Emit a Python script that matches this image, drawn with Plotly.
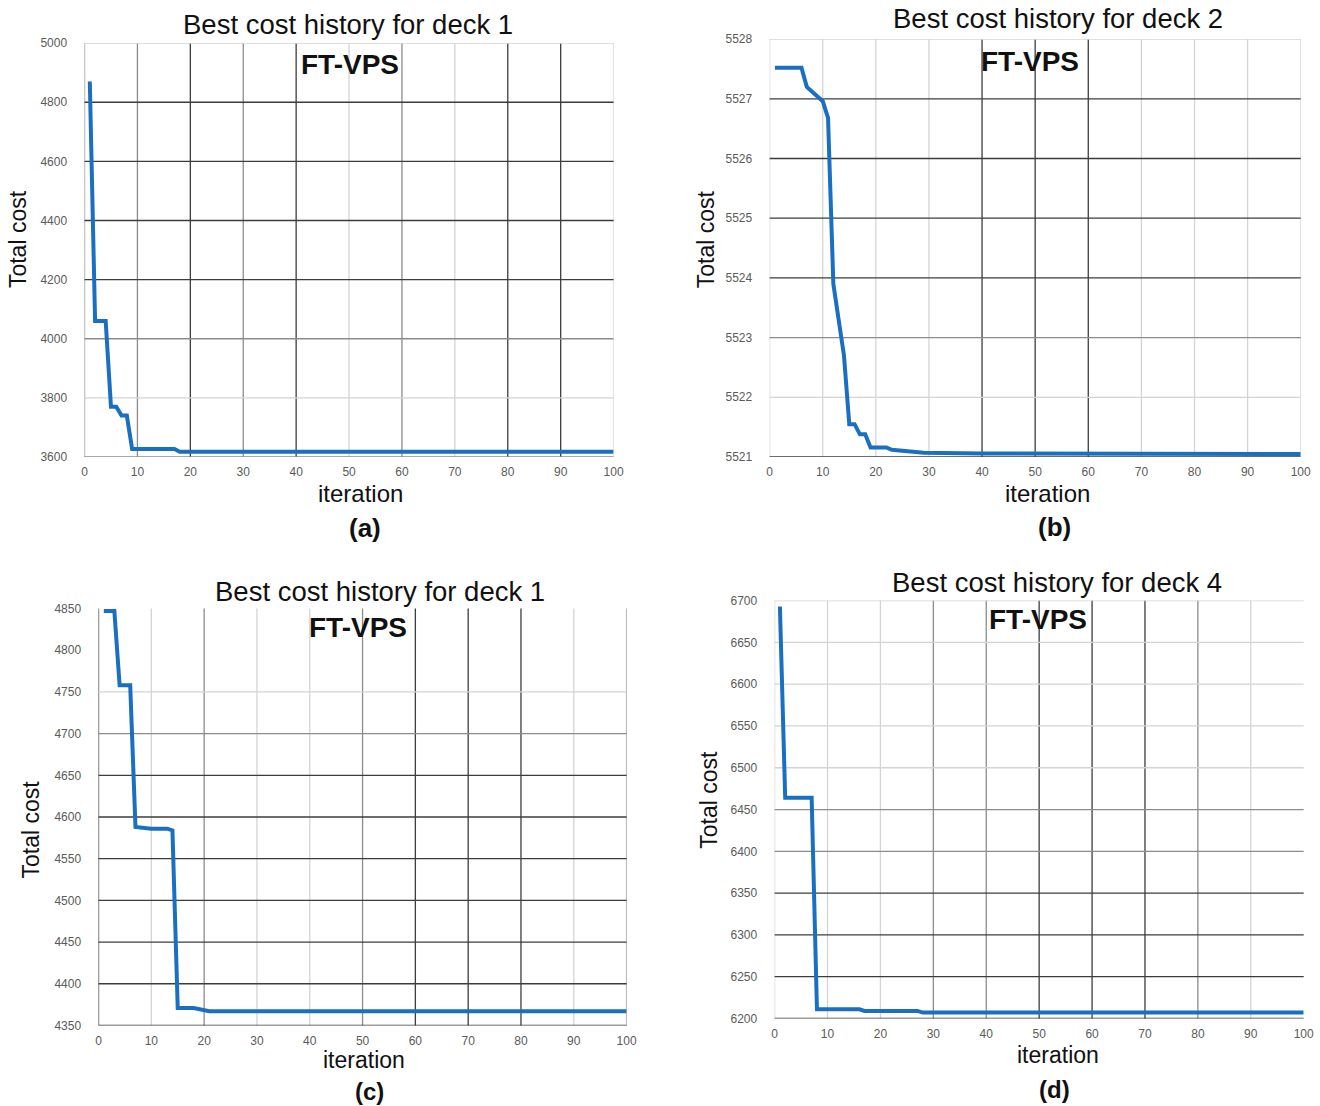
import plotly.graph_objects as go

# ---- best-cost histories (iteration, total cost) ----
iter_a = [1, 2, 4, 5, 6, 7, 8, 9, 17, 18, 100]
cost_a = [4870, 4060, 4060, 3770, 3770, 3740, 3740, 3627, 3627, 3618, 3618]

iter_b = [1, 6, 7, 8, 9, 10, 11, 12, 13, 14, 15, 16, 17, 18, 19, 22, 23, 26, 29, 40, 100]
cost_b = [5527.52, 5527.52, 5527.2, 5527.12, 5527.04, 5526.96, 5526.68, 5523.9,
          5523.3, 5522.7, 5521.55, 5521.55, 5521.38, 5521.38, 5521.16, 5521.16,
          5521.12, 5521.09, 5521.07, 5521.06, 5521.05]

iter_c = [1, 3, 4, 6, 7, 9, 10, 13, 14, 15, 18, 21, 100]
cost_c = [4847, 4847, 4758, 4758, 4588, 4587, 4586, 4586, 4584, 4371, 4371, 4367, 4367]

iter_d = [1, 2, 7, 8, 16, 17, 27, 28, 100]
cost_d = [6693, 6464, 6464, 6211, 6211, 6209, 6209, 6207, 6207]

titles = ["Best cost history for deck 1", "Best cost history for deck 2",
          "Best cost history for deck 1", "Best cost history for deck 4"]
panel_tags = ["(a)", "(b)", "(c)", "(d)"]

x_ticks = [0, 10, 20, 30, 40, 50, 60, 70, 80, 90, 100]
y_ticks_a = [3600, 3800, 4000, 4200, 4400, 4600, 4800, 5000]
y_ticks_b = [5521, 5522, 5523, 5524, 5525, 5526, 5527, 5528]
y_ticks_c = [4350, 4400, 4450, 4500, 4550, 4600, 4650, 4700, 4750, 4800, 4850]
y_ticks_d = [6200, 6250, 6300, 6350, 6400, 6450, 6500, 6550, 6600, 6650, 6700]

# grid line tone per tick (0 none, 1 light, 2 medium, 3 dark)
vgrid_a = [2, 2, 3, 2, 3, 1, 2, 1, 3, 3, 1]
hgrid_a = [2, 1, 2, 3, 3, 3, 3, 1]
vgrid_b = [1, 1, 1, 1, 3, 3, 3, 1, 1, 1, 1]
hgrid_b = [3, 1, 2, 3, 3, 3, 3, 1]
vgrid_c = [3, 1, 2, 1, 1, 2, 3, 3, 3, 1, 2]
hgrid_c = [3, 3, 3, 3, 3, 3, 3, 2, 1, 0, 0]
vgrid_d = [1, 1, 1, 2, 2, 3, 3, 3, 2, 1, 0]
hgrid_d = [3, 3, 3, 3, 2, 2, 1, 1, 1, 1, 1]

W, H = 1320, 1106
# layout positions below are in screen pixels; map them onto the figure
SCALE, OFF_X, OFF_Y = 0.99, 3.5, 5.8
TONES = {1: "#d4d4d4", 2: "#8c8c8c", 3: "#3c3c3c"}
LINE_BLUE = "#1b6fc1"
FONT = "Liberation Sans, Arial, sans-serif"


def px(x):
    return (x - OFF_X) / SCALE / W


def py(y):
    return 1 - (y - OFF_Y) / SCALE / H


panels = [
    dict(it=iter_a, cost=cost_a, yt=y_ticks_a, vg=vgrid_a, hg=hgrid_a,
         dom_x=(85, 614), dom_y=(42, 457),
         title=(348, 23), ft=(350, 63), ylab=(18, 239), xlab=(361, 494), tag=(365, 528)),
    dict(it=iter_b, cost=cost_b, yt=y_ticks_b, vg=vgrid_b, hg=hgrid_b,
         dom_x=(770, 1301), dom_y=(38, 457),
         title=(1058, 17), ft=(1030, 60), ylab=(706, 239), xlab=(1048, 494), tag=(1055, 527)),
    dict(it=iter_c, cost=cost_c, yt=y_ticks_c, vg=vgrid_c, hg=hgrid_c,
         dom_x=(99, 627), dom_y=(609, 1027),
         title=(380, 592), ft=(358, 628), ylab=(31, 831), xlab=(364, 1062), tag=(370, 1093)),
    dict(it=iter_d, cost=cost_d, yt=y_ticks_d, vg=vgrid_d, hg=hgrid_d,
         dom_x=(775, 1304), dom_y=(601, 1020),
         title=(1057, 583), ft=(1038, 620), ylab=(709, 801), xlab=(1058, 1057), tag=(1055, 1091)),
]

fig = go.Figure()
layout = dict(
    width=W, height=H, margin=dict(l=0, r=0, t=0, b=0),
    paper_bgcolor="white", plot_bgcolor="white", showlegend=False,
)
shapes, annotations = [], []

for i, p in enumerate(panels):
    n = i + 1
    xa = "x" if n == 1 else f"x{n}"
    ya = "y" if n == 1 else f"y{n}"
    fig.add_trace(go.Scatter(
        x=p["it"], y=p["cost"], mode="lines",
        line=dict(color=LINE_BLUE, width=4),
        xaxis=xa, yaxis=ya, hoverinfo="skip",
    ))
    tickfont = dict(family=FONT, size=12, color="#5a5a5a")
    layout[f"xaxis{n if n > 1 else ''}"] = dict(
        domain=[px(p["dom_x"][0]), px(p["dom_x"][1])],
        anchor=ya, range=[0, 100], tickvals=x_ticks,
        showgrid=False, zeroline=False, showline=False,
        ticks="outside", ticklen=4, tickcolor="rgba(0,0,0,0)",
        tickfont=tickfont,
    )
    layout[f"yaxis{n if n > 1 else ''}"] = dict(
        domain=[py(p["dom_y"][1]), py(p["dom_y"][0])],
        anchor=xa, range=[p["yt"][0], p["yt"][-1]], tickvals=p["yt"],
        showgrid=False, zeroline=False, showline=False,
        ticks="outside", ticklen=14, tickcolor="rgba(0,0,0,0)",
        tickfont=tickfont,
    )
    # grid lines drawn per tick so each can take its own tone
    for v, tone in zip(x_ticks, p["vg"]):
        if tone:
            shapes.append(dict(type="line", xref=xa, yref=f"{ya} domain",
                               x0=v, x1=v, y0=0, y1=1, layer="below",
                               line=dict(color=TONES[tone], width=1.3)))
    for v, tone in zip(p["yt"], p["hg"]):
        if tone:
            shapes.append(dict(type="line", xref=f"{xa} domain", yref=ya,
                               x0=0, x1=1, y0=v, y1=v, layer="below",
                               line=dict(color=TONES[tone], width=1.3)))

    def note(text, pos, size, bold=False, angle=0):
        annotations.append(dict(
            text=f"<b>{text}</b>" if bold else text,
            x=px(pos[0]), y=py(pos[1]), xref="paper", yref="paper",
            xanchor="center", yanchor="middle", showarrow=False, textangle=angle,
            borderpad=0,
            font=dict(family=FONT, size=size, color="#111111"),
        ))

    note(titles[i], p["title"], 27.5)
    note("FT-VPS", p["ft"], 28, bold=True)
    note("Total cost", p["ylab"], 23, angle=-90)
    note("iteration", p["xlab"], 24 if n < 3 else 23)
    note(panel_tags[i], p["tag"], 26 if n < 3 else 24, bold=True)

layout["shapes"] = shapes
layout["annotations"] = annotations
fig.update_layout(**layout)
fig.write_html("out.html")
